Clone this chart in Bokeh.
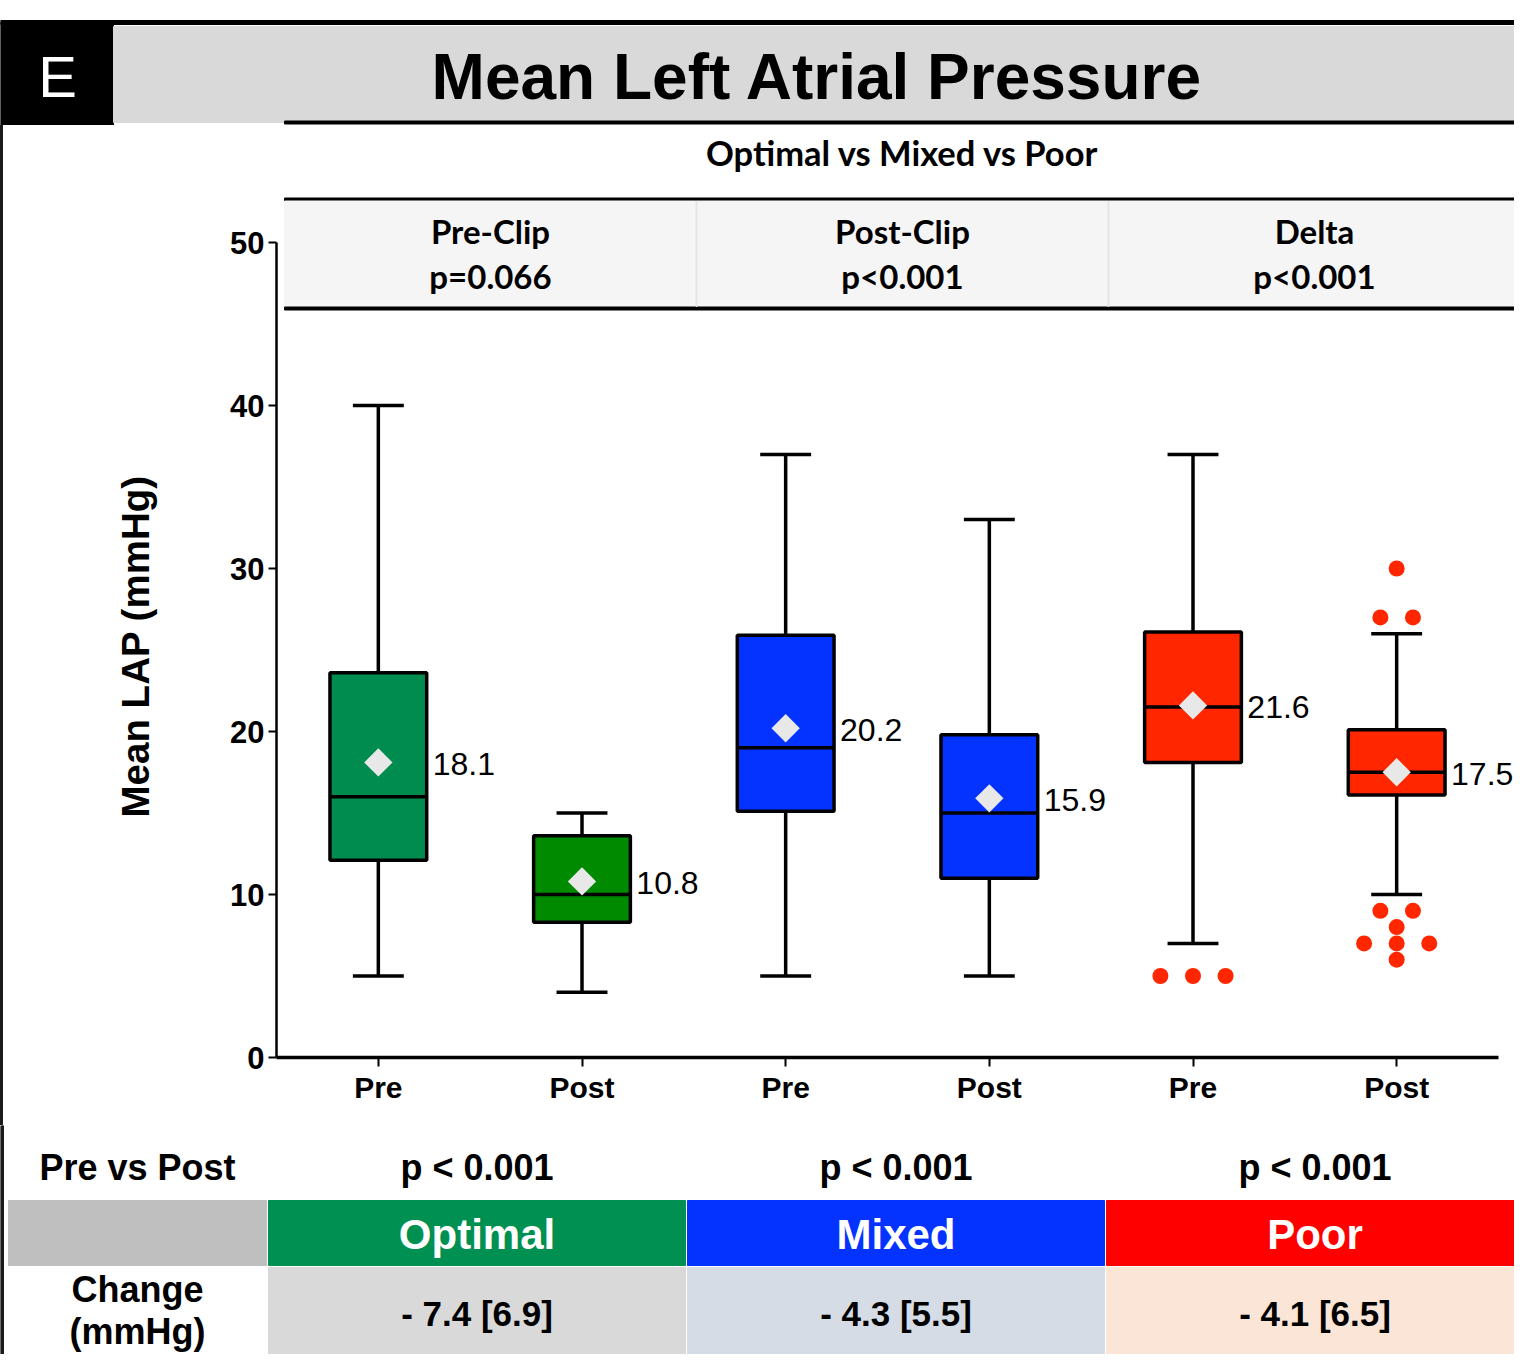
import math
from bokeh.plotting import figure
from bokeh.models import ColumnDataSource, FixedTicker, Range1d, Title
from bokeh.core.properties import value
from bokeh.embed import file_html
from bokeh.resources import INLINE

# ---------------- data ----------------
groups = ["Optimal", "Optimal", "Mixed", "Mixed", "Poor", "Poor"]
phases = ["Pre", "Post", "Pre", "Post", "Pre", "Post"]
whisker_low = [5, 4, 5, 5, 7, 10]
q1 = [12.1, 8.3, 15.1, 11.0, 18.1, 16.1]
medians = [16.0, 10.0, 19.0, 15.0, 21.5, 17.5]
q3 = [23.6, 13.6, 25.9, 19.8, 26.1, 20.1]
whisker_high = [40, 15, 37, 33, 37, 26]
means = [18.1, 10.8, 20.2, 15.9, 21.6, 17.5]
box_colors = ["#008c4f", "#008a00", "#0433ff", "#0433ff", "#ff2600", "#ff2600"]

outlier_box = [4, 4, 4, 5, 5, 5, 5, 5, 5, 5, 5, 5, 5]
outlier_values = [5, 5, 5, 30, 27, 27, 9, 9, 8, 7, 7, 7, 6]

y_ticks = [0, 10, 20, 30, 40, 50]

section_titles = ["Pre-Clip", "Post-Clip", "Delta"]
section_pvalues = ["p=0.066", "p<0.001", "p<0.001"]

group_names = ["Optimal", "Mixed", "Poor"]
group_colors = ["#009051", "#0433ff", "#ff0000"]
change_colors = ["#d9d9d9", "#d6dce5", "#fbe5d6"]
pre_post_p = ["p < 0.001", "p < 0.001", "p < 0.001"]
change_values = ["- 7.4 [6.9]", "- 4.3 [5.5]", "- 4.1 [6.5]"]

# ---------------- layout constants (page pixels) ----------------
W = 1514
TOP_H = 125            # title strip
MAIN_BOTTOM = 1125     # end of the main plot figure
H_TOTAL = 1354
FL, FR, FT, FB = 276, 1498, 242, 1057   # axis box: x -0.5..5.5, y 0..50
NX = len(groups)
YMAX = 50
ux = (FR - FL) / NX     # px per x unit
uy = (FB - FT) / YMAX   # px per y unit

FONT = "Liberation Sans"
HFONT = "Lato"


def deco_fig(height):
    f = figure(width=W, height=height, x_range=Range1d(0, W), y_range=Range1d(height, 0),
               x_axis_type=None, y_axis_type=None, output_backend="svg",
               toolbar_location=None, title=None, min_border=0)
    f.outline_line_color = None
    f.grid.visible = False
    return f


def txt(f, x, y, text, size, bold=True, color="black", font=FONT, **kw):
    f.text(x=[x], y=[y], text=[text], text_font=value(font), text_font_size=size,
           text_font_style="bold" if bold else "normal", text_color=color,
           text_align="center", text_baseline="middle", **kw)


# ---------------- title strip ----------------
top = deco_fig(TOP_H)
top.quad(left=[0], right=[W], top=[20], bottom=[24], color="black")
top.quad(left=[0], right=[113], top=[22], bottom=[TOP_H], color="black")
top.quad(left=[113], right=[1520], top=[26], bottom=[122], color="#d9d9d9")
top.quad(left=[284], right=[1520], top=[120.5], bottom=[123.5], color="black")
txt(top, 57, 76, "E", "58px", bold=False, color="white")
txt(top, 817, 76, "Mean Left Atrial Pressure", "64px")

# ---------------- main plot ----------------
main_h = MAIN_BOTTOM - TOP_H
p = figure(width=W, height=main_h,
           x_range=Range1d(-0.5, -0.5 + (W - FL) / ux),
           y_range=Range1d(0, (FB - TOP_H) / uy),
           output_backend="svg", toolbar_location=None, title=None,
           min_border_left=FL, min_border_right=0, min_border_top=0,
           min_border_bottom=MAIN_BOTTOM - FB)
p.extra_x_ranges = {"px": Range1d(FL, W)}
p.extra_y_ranges = {"px": Range1d(FB, TOP_H)}
p.outline_line_color = None
p.grid.visible = False
p.background_fill_color = "white"
p.border_fill_alpha = 0
p.styles = {"box-shadow": "inset 3px 0 0 0 #1a1a1a"}

p.yaxis.bounds = (0, YMAX)
p.yaxis.ticker = FixedTicker(ticks=y_ticks)
p.yaxis.minor_tick_line_color = None
p.yaxis.major_tick_in = 0
p.yaxis.major_tick_out = 8
p.yaxis.major_tick_line_width = 2
p.yaxis.axis_line_width = 2.5
p.yaxis.major_label_text_font = FONT
p.yaxis.major_label_text_font_style = "bold"
p.yaxis.major_label_text_font_size = "31px"
p.yaxis.major_label_text_color = "black"
p.yaxis.major_label_standoff = 4

# y-axis title: starts 240 px above the x axis (reads bottom to top)
p.add_layout(Title(text="Mean LAP (mmHg)", align="left", text_font=FONT,
                   text_font_size="38.5px", text_font_style="bold", text_color="black",
                   offset=240, standoff=142), "left")

xpos = list(range(NX))
p.xaxis.bounds = (-0.5, NX - 0.5)
p.xaxis.ticker = FixedTicker(ticks=xpos)
p.xaxis.major_label_overrides = {i: ph for i, ph in zip(xpos, phases)}
p.xaxis.minor_tick_line_color = None
p.xaxis.major_tick_in = 0
p.xaxis.major_tick_out = 9
p.xaxis.major_tick_line_width = 2
p.xaxis.axis_line_width = 3.5
p.xaxis.major_label_text_font = FONT
p.xaxis.major_label_text_font_style = "bold"
p.xaxis.major_label_text_font_size = "30px"
p.xaxis.major_label_text_color = "black"
p.xaxis.major_label_standoff = 4

# header block inside the plot area (page-pixel range)
R = dict(x_range_name="px", y_range_name="px")
p.quad(left=[284], right=[1520], top=[197.5], bottom=[200.5], color="black", **R)
p.quad(left=[284], right=[1520], top=[200.5], bottom=[306.5], color="#f5f5f5", **R)
p.quad(left=[284], right=[1520], top=[306.5], bottom=[309.5], color="black", **R)
txt(p, 902, 152, "Optimal vs Mixed vs Poor", "34.5px", font=HFONT, **R)
sec_w = (1520 - 284) / len(section_titles)
for i in range(1, len(section_titles)):
    p.quad(left=[284 + i * sec_w - 0.5], right=[284 + i * sec_w + 0.5], top=[201],
           bottom=[306], color="#e6e6e6", **R)
for i, (t, pv) in enumerate(zip(section_titles, section_pvalues)):
    cx = 284 + (i + 0.5) * sec_w
    txt(p, cx, 230, t, "33px", font=HFONT, **R)
    txt(p, cx, 275, pv, "33px", font=HFONT, **R)

# ---------------- box plot ----------------
BOXW = 0.475
CAPW = 0.25
src = ColumnDataSource(dict(
    x=xpos, lo=whisker_low, q1=q1, med=medians, q3=q3, hi=whisker_high, mean=means,
    color=box_colors,
    bl=[v - BOXW / 2 for v in xpos], br=[v + BOXW / 2 for v in xpos],
    cl=[v - CAPW / 2 for v in xpos], cr=[v + CAPW / 2 for v in xpos],
    lab_x=[v + BOXW / 2 for v in xpos],
    mean_text=["%.1f" % m for m in means],
))

LW = 3.5
p.segment(x0="x", x1="x", y0="q3", y1="hi", source=src, line_color="black", line_width=LW)
p.segment(x0="x", x1="x", y0="lo", y1="q1", source=src, line_color="black", line_width=LW)
p.segment(x0="cl", x1="cr", y0="hi", y1="hi", source=src, line_color="black", line_width=LW)
p.segment(x0="cl", x1="cr", y0="lo", y1="lo", source=src, line_color="black", line_width=LW)
p.vbar(x="x", width=BOXW, bottom="q1", top="q3", source=src, fill_color="color",
       line_color="black", line_width=LW)
p.segment(x0="bl", x1="br", y0="med", y1="med", source=src, line_color="black", line_width=LW)
p.scatter(x="x", y="mean", source=src, marker="square", angle=math.pi / 4, size=20,
          fill_color="#e8e8e8", line_color=None)

SWARM = 0.16
ox = []
for i, (b, v) in enumerate(zip(outlier_box, outlier_values)):
    same = [j for j, (bb, vv) in enumerate(zip(outlier_box, outlier_values)) if bb == b and vv == v]
    k = same.index(i)
    ox.append(b + (k - (len(same) - 1) / 2) * SWARM)
p.scatter(x=ox, y=outlier_values, marker="circle", size=16,
          fill_color="#ff2600", line_color=None)

p.text(x="lab_x", y="mean", text="mean_text", source=src, x_offset=6, y_offset=2,
       text_font=value(FONT), text_font_size="32px", text_baseline="middle",
       text_align="left", text_color="black")

# ---------------- bottom table ----------------
tab_h = H_TOTAL - MAIN_BOTTOM
tb = deco_fig(tab_h)


def ty(py):
    return py - MAIN_BOTTOM


tb.quad(left=[0], right=[3], top=[0], bottom=[tab_h], color="#1a1a1a")
txt(tb, 137, ty(1167), "Pre vs Post", "36px")
CW, CG = 417, 2
cell_l = [268 + g * (CW + CG) for g in range(len(group_names))]
cell_r = [l + CW for l in cell_l]
cell_c = [l + CW / 2 for l in cell_l]
tb.quad(left=cell_l, right=cell_r, top=[ty(1200)] * 3, bottom=[ty(1265)] * 3,
        color=group_colors)
tb.quad(left=cell_l, right=cell_r, top=[ty(1267)] * 3, bottom=[ty(1356)] * 3,
        color=change_colors)
tb.quad(left=[8], right=[266], top=[ty(1200)], bottom=[ty(1265)], color="#bfbfbf")
tb.text(x=cell_c, y=[ty(1167)] * 3, text=pre_post_p, text_font=value(FONT),
        text_font_size="36px", text_font_style="bold", text_align="center",
        text_baseline="middle", text_color="black")
tb.text(x=cell_c, y=[ty(1234)] * 3, text=group_names, text_font=value(FONT),
        text_font_size="42px", text_font_style="bold", text_align="center",
        text_baseline="middle", text_color="white")
tb.text(x=cell_c, y=[ty(1313)] * 3, text=change_values, text_font=value(FONT),
        text_font_size="35px", text_font_style="bold", text_align="center",
        text_baseline="middle", text_color="black")
txt(tb, 137, ty(1289), "Change", "36px")
txt(tb, 137, ty(1331), "(mmHg)", "36px")

# three independent roots stacked on the page (no frame alignment between them)
open("out.html", "w").write(file_html([top, p, tb], INLINE))
